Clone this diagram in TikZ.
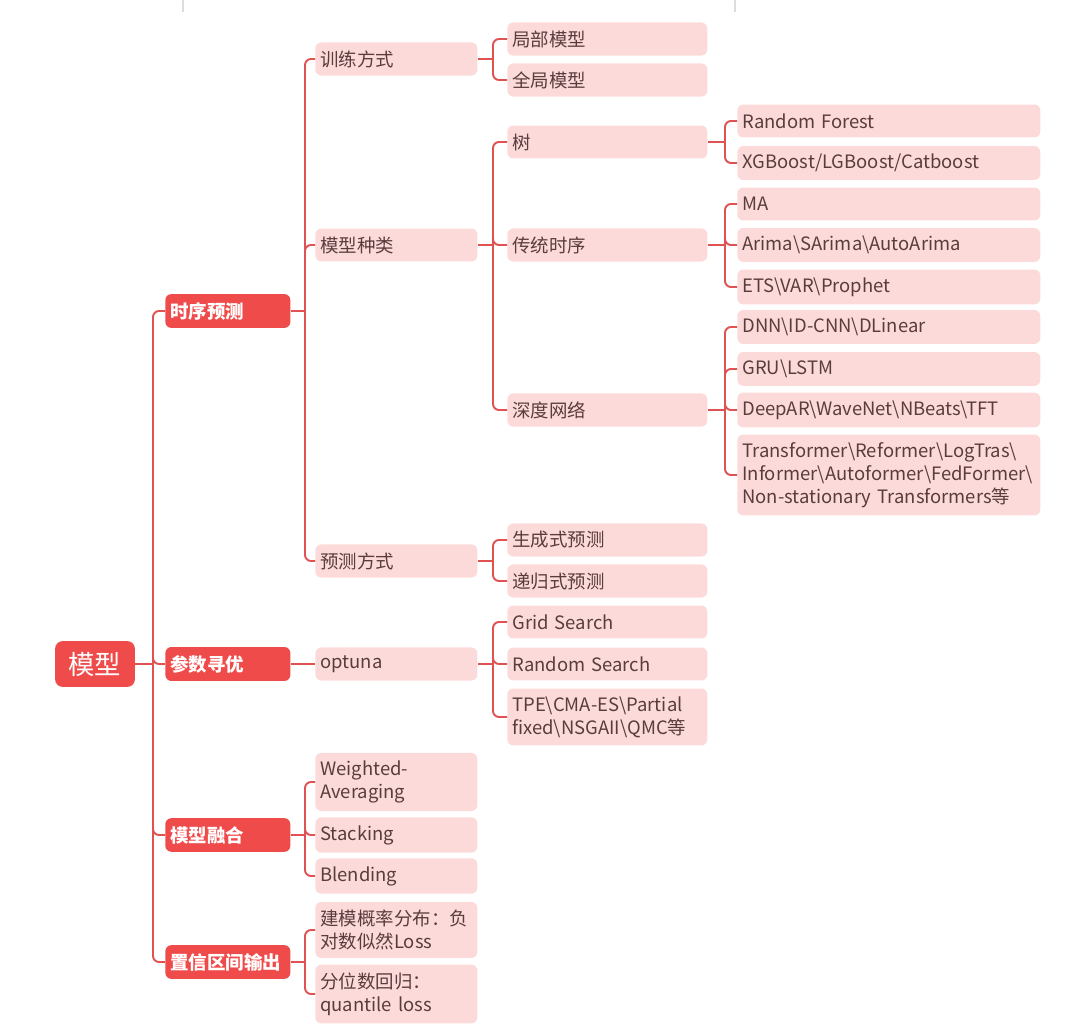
\documentclass[tikz,border=0pt]{standalone}
\usepackage{fontspec}
\setmainfont{Noto Sans CJK SC}
\usepackage{xcolor}
\usepackage{tikz}
\definecolor{MMRed}{HTML}{F04B4B}
\definecolor{MMLine}{HTML}{E05252}
\definecolor{MMPink}{HTML}{FCDADA}
\definecolor{MMText}{HTML}{5A3C3C}
\definecolor{MMGrid}{HTML}{DDDDDD}
\newcommand{\bsl}{\textbackslash}
\tikzset{
  rootbox/.style={fill=MMRed,text=white,rounded corners=0.16cm,minimum width=1.6cm,minimum height=0.92cm,inner sep=0pt,font=\fontsize{15}{18}\selectfont},
  topicbox/.style={fill=MMRed,text=white,rounded corners=0.12cm,anchor=west,align=left,text width=2.3cm,minimum height=0.66cm,inner xsep=0.1cm,inner ysep=0.16cm,font=\bfseries\fontsize{10.5}{13}\selectfont},
  leafbox/.style={fill=MMPink,text=MMText,rounded corners=0.12cm,anchor=west,align=left,minimum height=0.66cm,inner xsep=0.1cm,inner ysep=0.16cm,font=\fontsize{10.5}{13}\selectfont},
  subbox/.style={leafbox,text width=3.04cm},
  itembox/.style={leafbox,text width=3.8cm},
  detailbox/.style={leafbox,text width=5.86cm},
  link/.style={draw=MMLine,line width=1.1pt,rounded corners=0.12cm},
}

\begin{document}
\begin{tikzpicture}[x=0.02cm,y=-0.02cm]
\path[use as bounding box] (0,0) rectangle (1080,1034);
\draw[MMGrid,line width=0.8pt] (183,0) -- (183,12);
\draw[MMGrid,line width=0.8pt] (735,0) -- (735,12);

% root and main branches
\node[rootbox] (mx) at (95,664) {模型};
\node[topicbox] (sxyc) at (165,311) {时序预测};
\node[topicbox] (cscy) at (165,664) {参数寻优};
\node[topicbox] (mxrh) at (165,835) {模型融合};
\node[topicbox] (zxqj) at (165,962) {置信区间输出};

% second level
\node[subbox] (xlfs) at (315,59) {训练方式};
\node[subbox] (mxzl) at (315,245) {模型种类};
\node[subbox] (ycfs) at (315,561) {预测方式};
\node[subbox] (optuna) at (315,664) {optuna};
\node[subbox] (wavg) at (315,782) {Weighted-\\Averaging};
\node[subbox] (stk) at (315,835) {Stacking};
\node[subbox] (bld) at (315,876) {Blending};
\node[subbox] (gailv) at (315,930) {建模概率分布：负\\对数似然Loss};
\node[subbox] (fenwei) at (315,994) {分位数回归：\\quantile loss};

% third level
\node[itembox] (jbmx) at (507,39) {局部模型};
\node[itembox] (qjmx) at (507,80) {全局模型};
\node[itembox] (shu) at (507,142) {树};
\node[itembox] (ctsx) at (507,245) {传统时序};
\node[itembox] (sdwl) at (507,410) {深度网络};
\node[itembox] (scs) at (507,540) {生成式预测};
\node[itembox] (dgs) at (507,581) {递归式预测};
\node[itembox] (grid) at (507,622) {Grid Search};
\node[itembox] (rand) at (507,664) {Random Search};
\node[itembox] (tpe) at (507,717) {TPE\bsl CMA-ES\bsl Partial\\fixed\bsl NSGAII\bsl QMC等};

% fourth level
\node[detailbox] (rf) at (737,121) {Random Forest};
\node[detailbox] (xgb) at (737,163) {XGBoost/LGBoost/Catboost};
\node[detailbox] (ma) at (737,204) {MA};
\node[detailbox] (arima) at (737,245) {Arima\bsl SArima\bsl AutoArima};
\node[detailbox] (ets) at (737,287) {ETS\bsl VAR\bsl Prophet};
\node[detailbox] (dnn) at (737,327) {DNN\bsl ID-CNN\bsl DLinear};
\node[detailbox] (gru) at (737,369) {GRU\bsl LSTM};
\node[detailbox] (deepar) at (737,410) {DeepAR\bsl WaveNet\bsl NBeats\bsl TFT};
\node[detailbox] (trans) at (737,475) {Transformer\bsl Reformer\bsl LogTras\bsl\\Informer\bsl Autoformer\bsl FedFormer\bsl\\Non-stationary Transformers等};

% fork points
\coordinate (f0) at (153,664);
\coordinate (f1) at (305,311);
\coordinate (f2) at (305,835);
\coordinate (f3) at (305,962);
\coordinate (f4) at (493,59);
\coordinate (f5) at (493,245);
\coordinate (f6) at (493,561);
\coordinate (f7) at (493,664);
\coordinate (f8) at (725,142);
\coordinate (f9) at (725,245);
\coordinate (f10) at (725,410);

% connectors
\draw[link] (mx.east) -- (f0);
\foreach \c in {sxyc,cscy,mxrh,zxqj} \draw[link] (f0) |- (\c.west);
\draw[link] (sxyc.east) -- (f1);
\foreach \c in {xlfs,mxzl,ycfs} \draw[link] (f1) |- (\c.west);
\draw[link] (cscy.east) -- (optuna.west);
\draw[link] (mxrh.east) -- (f2);
\foreach \c in {wavg,stk,bld} \draw[link] (f2) |- (\c.west);
\draw[link] (zxqj.east) -- (f3);
\foreach \c in {gailv,fenwei} \draw[link] (f3) |- (\c.west);
\draw[link] (xlfs.east) -- (f4);
\foreach \c in {jbmx,qjmx} \draw[link] (f4) |- (\c.west);
\draw[link] (mxzl.east) -- (f5);
\foreach \c in {shu,ctsx,sdwl} \draw[link] (f5) |- (\c.west);
\draw[link] (ycfs.east) -- (f6);
\foreach \c in {scs,dgs} \draw[link] (f6) |- (\c.west);
\draw[link] (optuna.east) -- (f7);
\foreach \c in {grid,rand,tpe} \draw[link] (f7) |- (\c.west);
\draw[link] (shu.east) -- (f8);
\foreach \c in {rf,xgb} \draw[link] (f8) |- (\c.west);
\draw[link] (ctsx.east) -- (f9);
\foreach \c in {ma,arima,ets} \draw[link] (f9) |- (\c.west);
\draw[link] (sdwl.east) -- (f10);
\foreach \c in {dnn,gru,deepar,trans} \draw[link] (f10) |- (\c.west);
\end{tikzpicture}
\end{document}
